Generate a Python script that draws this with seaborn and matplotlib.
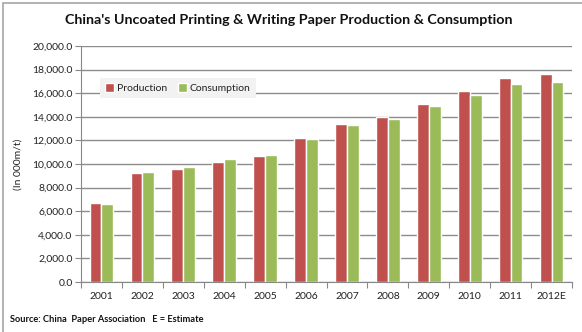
import matplotlib
matplotlib.use("Agg")
import matplotlib.pyplot as plt
import seaborn as sns
import pandas as pd
import numpy as np
from matplotlib.patches import Rectangle

years = ["2001", "2002", "2003", "2004", "2005", "2006", "2007", "2008", "2009", "2010", "2011", "2012E"]
production = [6730, 9210, 9580, 10190, 10700, 12180, 13420, 13960, 15110, 16160, 17290, 17600]
consumption = [6640, 9350, 9720, 10420, 10760, 12090, 13310, 13820, 14940, 15880, 16810, 16950]
series_names = ["Production", "Consumption"]
colors = ["#C0504D", "#9BBB59"]
yticks = list(range(0, 20001, 2000))

df = pd.DataFrame({
    "Year": years * 2,
    "Series": [series_names[0]] * len(years) + [series_names[1]] * len(years),
    "Value": production + consumption,
})

sns.set_theme(style="white")
plt.rcParams["font.family"] = ["Lato", "DejaVu Sans"]

fig = plt.figure(figsize=(5.82, 3.32), dpi=100)
ax = fig.add_axes([81/582, 50/332, (572-81)/582, (282-46)/332])

sns.barplot(data=df, x="Year", y="Value", hue="Series", palette=colors,
            width=0.58, saturation=1, ax=ax, order=years, hue_order=series_names)

ax.set_ylim(0, 20000)
ax.set_xlim(-0.5, len(years) - 0.5)
ax.set_yticks(yticks)
ax.set_yticklabels([f"{v:,.1f}" for v in yticks], fontsize=7.5, color="#222222")
ax.yaxis.grid(True, color="#8C8C8C", linewidth=1.0)
ax.set_axisbelow(True)
ax.tick_params(axis="y", direction="out", length=4, width=0.8, color="#888888", pad=2, left=True)
ax.set_xticks(range(len(years)))
ax.set_xticklabels(years, fontsize=7.5, color="#222222")
ax.set_xticks(np.arange(-0.5, len(years), 1.0), minor=True)
ax.tick_params(axis="x", which="major", length=0, pad=7)
ax.tick_params(axis="x", which="minor", direction="out", length=4, width=0.8, color="#888888", bottom=True)
for s in ["top", "right"]:
    ax.spines[s].set_visible(False)
for s in ["left", "bottom"]:
    ax.spines[s].set_color("#888888")
    ax.spines[s].set_linewidth(0.8)
ax.set_xlabel("")
ax.set_ylabel("(In 000m/t)", fontsize=7.5, color="#222222")
ax.yaxis.set_label_coords(-0.12, 0.5)

leg = ax.legend(loc="upper left", bbox_to_anchor=(19/491, (282-78)/236), ncol=2,
                frameon=True, fontsize=7.5, handlelength=0.85, handleheight=0.85,
                handletextpad=0.25, columnspacing=1.1, borderpad=0.5, borderaxespad=0)
leg.get_frame().set_facecolor("#F2F2F2")
leg.get_frame().set_edgecolor("none")
leg.get_frame().set_boxstyle("square", pad=0)
leg.get_frame().set_alpha(1)
for t in leg.get_texts():
    t.set_color("#222222")

fig.text(289/582, 1 - 20/332, "China's Uncoated Printing & Writing Paper Production & Consumption",
         ha="center", va="center", fontsize=10.3, fontweight="bold", color="#111111")
fig.text(10/582, 1 - 320/332, "Source: China  Paper Association   E = Estimate",
         ha="left", va="center", fontsize=6.7, fontweight="bold", color="#111111")

fig.patches.append(Rectangle((2.5/582, -0.1), 1.2, 1 - 3/332 + 0.1, transform=fig.transFigure,
                             fill=False, edgecolor="#A6A6A6", linewidth=1.2))

fig.savefig("out.png", dpi=100)
